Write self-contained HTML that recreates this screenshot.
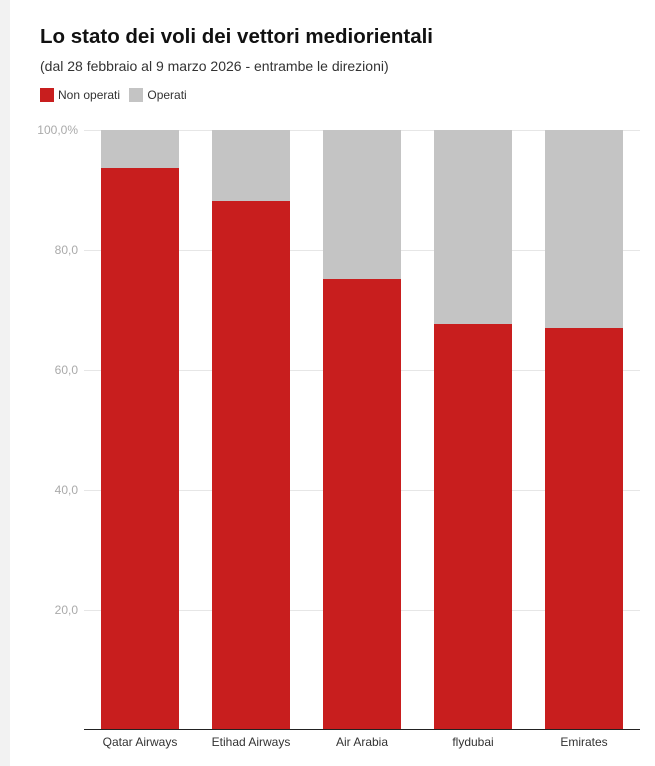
<!DOCTYPE html>
<html><head><meta charset="utf-8"><style>
body{margin:0;width:655px;height:766px;background:#fff;font-family:"Liberation Sans",sans-serif;position:relative;overflow:hidden}
.strip{position:absolute;left:0;top:0;width:10px;height:766px;background:#f2f2f2}
.t{position:absolute;white-space:nowrap}
</style></head><body>
<div class="strip"></div>
<div class="t" style="left:40px;top:25px;font-size:20.5px;font-weight:bold;color:#111">Lo stato dei voli dei vettori mediorientali</div>
<div class="t" style="left:40px;top:58px;font-size:14px;color:#333">(dal 28 febbraio al 9 marzo 2026 - entrambe le direzioni)</div>
<div class="t" style="left:40px;top:88px;font-size:12px;color:#333"><span style="display:inline-block;width:14px;height:14px;background:#c81e1e;vertical-align:-3px;margin-right:4px"></span>Non operati <span style="display:inline-block;width:14px;height:14px;background:#c4c4c4;vertical-align:-3px;margin:0 4px 0 6px"></span>Operati</div>
<svg width="655" height="766" style="position:absolute;left:0;top:0" font-family="Liberation Sans, sans-serif">
<g stroke="#e6e6e6" stroke-width="1">
<line x1="84" x2="640" y1="130.5" y2="130.5"/><line x1="84" x2="640" y1="250.5" y2="250.5"/><line x1="84" x2="640" y1="370.5" y2="370.5"/><line x1="84" x2="640" y1="490.5" y2="490.5"/><line x1="84" x2="640" y1="610.5" y2="610.5"/>
</g>
<g font-size="12" fill="#aaa" text-anchor="end">
<text x="78" y="134">100,0%</text><text x="78" y="254">80,0</text><text x="78" y="374">60,0</text><text x="78" y="494">40,0</text><text x="78" y="614">20,0</text>
</g>
<g fill="#c4c4c4">
<rect x="101" y="130" width="78" height="599"/><rect x="212" y="130" width="78" height="599"/><rect x="323" y="130" width="78" height="599"/><rect x="434" y="130" width="78" height="599"/><rect x="545" y="130" width="78" height="599"/>
</g>
<g fill="#c81e1e">
<rect x="101" y="168" width="78" height="561"/><rect x="212" y="201" width="78" height="528"/><rect x="323" y="279" width="78" height="450"/><rect x="434" y="324" width="78" height="405"/><rect x="545" y="328" width="78" height="401"/>
</g>
<line x1="84" x2="640" y1="729.5" y2="729.5" stroke="#222" stroke-width="1"/>
<g font-size="12" fill="#333" text-anchor="middle">
<text x="140" y="746">Qatar Airways</text><text x="251" y="746">Etihad Airways</text><text x="362" y="746">Air Arabia</text><text x="473" y="746">flydubai</text><text x="584" y="746">Emirates</text>
</g>
</svg>
</body></html>
